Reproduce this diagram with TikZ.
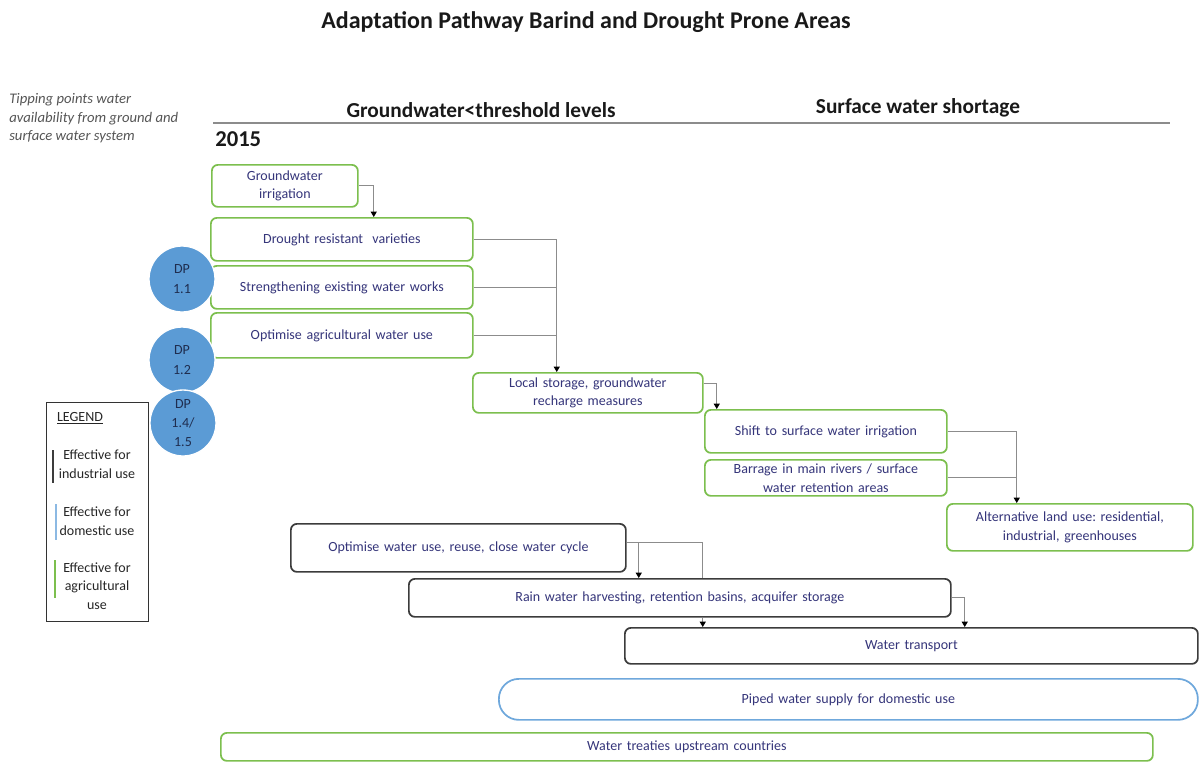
\documentclass[tikz,border=0pt]{standalone}
\usepackage{fontspec}
\setmainfont{Carlito}
\usetikzlibrary{arrows.meta,calc}
\definecolor{txt}{HTML}{35357A}
\definecolor{agr}{HTML}{7CBF4E}
\definecolor{ind}{HTML}{3C3C3C}
\definecolor{dom}{HTML}{6FA8DC}
\definecolor{dpblue}{HTML}{5B9BD5}
\definecolor{dptxt}{HTML}{1F2D4F}
\definecolor{linegray}{HTML}{8C8C8C}
\definecolor{ittxt}{HTML}{555555}
\frenchspacing
\newcommand\bx[7]{%
  \pgfmathsetmacro\bxtw{0.75*(#5-#3)-8}%
  \pgfmathsetmacro\bxmh{0.75*(#6-#4)}%
  \node[#2,anchor=north west,text width=\bxtw pt,minimum height=\bxmh pt] (#1) at (#3,#4) {#7};}
\begin{document}
\begin{tikzpicture}[x=0.75pt,y=-0.75pt,
  base/.style={rounded corners=4.5pt,line width=1.3pt,fill=white,align=center,text=txt,
    font=\fontsize{10.5}{14}\selectfont,inner xsep=4pt,inner ysep=0pt},
  gbox/.style={base,draw=agr},
  kbox/.style={base,draw=ind},
  bbox/.style={base,draw=dom,rounded corners=15pt},
  link/.style={draw=linegray,line width=0.8pt},
  conn/.style={link,-{Triangle[length=4pt,width=4.5pt,color=black]}},
  dp/.style={circle,fill=dpblue,draw=white,line width=1pt,minimum size=49.5pt,inner sep=0pt,
    align=center,font=\fontsize{10.5}{14.5}\selectfont,text=dptxt},
  legtxt/.style={align=center,font=\fontsize{10.5}{14}\selectfont,text=black!85},
  hdr/.style={font=\fontsize{16}{19}\bfseries,text=black!90}]
\useasboundingbox (0,0) rectangle (1199,761);

% title and headers
\node[font=\fontsize{18}{21}\bfseries,text=black!90] (title) at (586,22) {Adaptation Pathway Barind and Drought Prone Areas};
\node[anchor=north west,align=left,font=\fontsize{11}{14}\itshape,text=ittxt,inner sep=0pt] (tip) at (9,93)
  {Tipping points water\\availability from ground and\\surface water system};
\node[hdr] (h1) at (481,110) {Groundwater<threshold levels};
\node[hdr] (h2) at (918,108) {Surface water shortage};
\draw[linegray,line width=2.2pt] (213,123) -- (1170,123);
\node[anchor=west,inner sep=0pt,font=\fontsize{17}{20}\bfseries,text=black!90] (y2015) at (215,139) {2015};

% boxes
\bx{gw}{gbox}{211}{164}{357}{206}{Groundwater\\irrigation}
\bx{drought}{gbox}{210}{217}{472}{260}{Drought resistant\ \ varieties}
\bx{strength}{gbox}{210}{265}{472}{308}{Strengthening existing water works}
\bx{optag}{gbox}{210}{312}{472}{357}{Optimise agricultural water use}
\bx{local}{gbox}{472}{372}{702}{412}{Local storage, groundwater\\recharge measures}
\bx{shift}{gbox}{704}{409}{946}{452}{Shift to surface water irrigation}
\bx{barrage}{gbox}{704}{459}{946}{495}{Barrage in main rivers / surface\\water retention areas}
\bx{alt}{gbox}{946}{503}{1192}{550}{Alternative land use: residential,\\industrial, greenhouses}
\bx{optw}{kbox}{290}{523}{625}{571}{Optimise water use, reuse, close water cycle}
\bx{rain}{kbox}{408}{578}{950}{616}{Rain water harvesting, retention basins, acquifer storage}
\bx{transport}{kbox}{624}{627}{1197}{663}{Water transport}
\bx{piped}{bbox}{498}{678}{1197}{719}{Piped water supply for domestic use}
\bx{treaty}{gbox}{220}{732}{1152}{760}{Water treaties upstream countries}

% decision points
\node[dp] (dp1) at (182,279) {DP\\1.1};
\node[dp] (dp2) at (182,360) {DP\\1.2};
\node[dp] (dp3) at (183,423) {DP\\1.4/\\1.5};

% connectors
\draw[conn] (gw.east) -- ++(15,0) coordinate (c1) -- (c1 |- drought.north);
\draw[conn] (drought.east) -- ++(83,0) coordinate (c2) -- (c2 |- local.north);
\draw[link] (strength.east) -- (c2 |- strength.east);
\draw[link] (optag.east) -- (c2 |- optag.east);
\draw[conn] ([yshift=7pt]local.east) -- ++(13,0) coordinate (c3) -- (c3 |- shift.north);
\draw[conn] (shift.east) -- ++(69,0) coordinate (c4) -- (c4 |- alt.north);
\draw[link] (barrage.east) -- (c4 |- barrage.east);
\draw[conn] ([yshift=4pt]optw.east) -- ++(12,0) coordinate (c5) -- (c5 |- rain.north);
\draw[link] ([yshift=4pt]optw.east) -- ++(76,0) coordinate (c6) -- (c6 |- rain.north);
\draw[conn] (c6 |- rain.south) -- (c6 |- transport.north);
\draw[conn] (rain.east) -- ++(13,0) coordinate (c7) -- (c7 |- transport.north);

% legend
\node[draw=black!80,line width=0.9pt,anchor=north west,minimum width=76.5pt,minimum height=164pt,inner sep=0pt] (legend) at (46,402) {};
\node[legtxt] (legtitle) at (80,418) {\underline{LEGEND}};
\node[legtxt] (legi) at (97,464) {Effective for\\industrial use};
\draw[ind,line width=2pt] (53,450) -- (53,483);
\node[legtxt] (legd) at (97,521) {Effective for\\domestic use};
\draw[dom!80,line width=2pt] (56,504) -- (56,540);
\node[legtxt] (lega) at (97,586) {Effective for\\agricultural\\use};
\draw[agr,line width=2pt] (55,560) -- (55,598);
\end{tikzpicture}
\end{document}
